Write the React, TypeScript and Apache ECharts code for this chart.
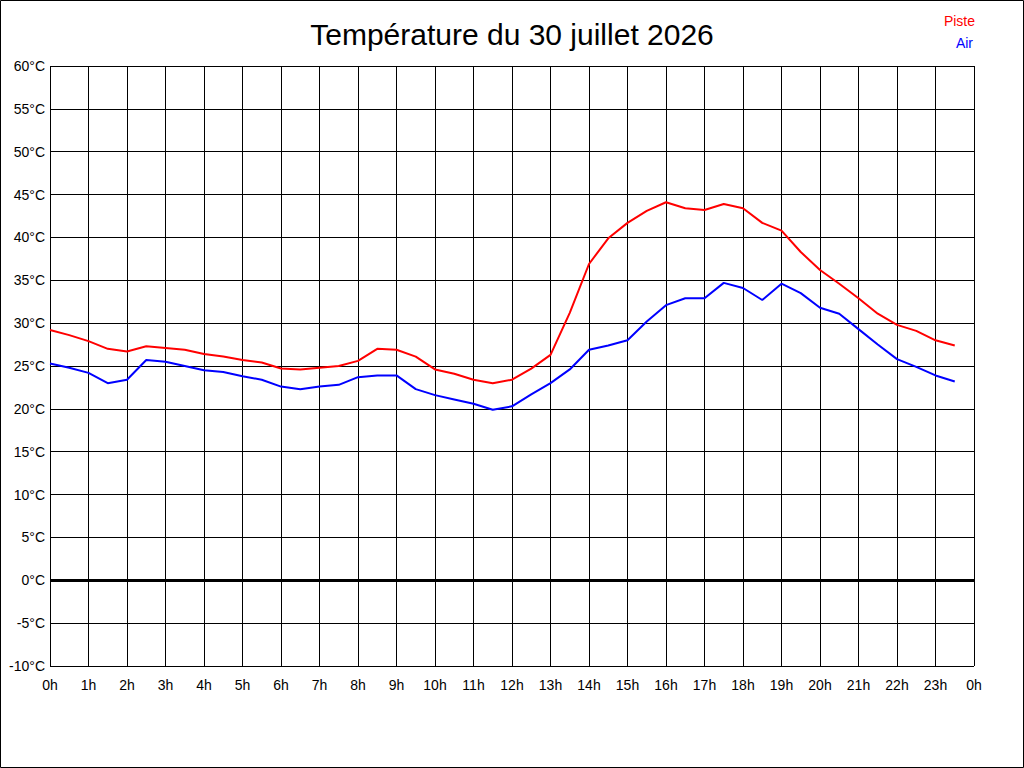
import React, { useEffect, useRef } from 'react'
import * as echarts from 'echarts'

// relevés toutes les 30 minutes, de 0h à 23h30
const piste = [
  29.2, 28.6, 27.9, 27.0, 26.7, 27.3, 27.1, 26.9, 26.4, 26.1, 25.7, 25.4,
  24.7, 24.6, 24.8, 25.0, 25.6, 27.0, 26.9, 26.1, 24.6, 24.1, 23.4, 23.0,
  23.4, 24.7, 26.3, 31.2, 36.9, 39.9, 41.7, 43.1, 44.1, 43.4, 43.2, 43.9,
  43.4, 41.7, 40.8, 38.3, 36.2, 34.6, 32.9, 31.1, 29.8, 29.1, 28.0, 27.4,
]
const air = [
  25.3, 24.8, 24.2, 23.0, 23.4, 25.7, 25.5, 25.0, 24.5, 24.3, 23.8, 23.4,
  22.6, 22.3, 22.6, 22.8, 23.7, 23.9, 23.9, 22.3, 21.6, 21.1, 20.6, 19.9,
  20.3, 21.7, 23.0, 24.6, 26.9, 27.4, 28.0, 30.2, 32.1, 32.9, 32.9, 34.7,
  34.1, 32.7, 34.6, 33.5, 31.8, 31.1, 29.3, 27.5, 25.8, 24.9, 23.9, 23.2,
]
const seriesNames = ['Piste', 'Air']
const seriesColors = ['#ff0000', '#0000ff']
const titleText = 'Température du 30 juillet 2026'

const font = '"Liberation Sans", Arial, sans-serif'

const App = () => {
  const chartRef = useRef<HTMLDivElement>(null)

  useEffect(() => {
    if (!chartRef.current) return
    const chart = echarts.init(chartRef.current, null, { renderer: 'svg' })
    const toPoints = (values: number[]) => values.map((v, i) => [i / 2, v])

    const option = {
      animation: false,
      backgroundColor: '#ffffff',
      textStyle: { fontFamily: font },
      title: {
        text: titleText,
        left: 'center',
        top: 14,
        textStyle: { fontFamily: font, fontSize: 30, fontWeight: 'normal', color: '#000' },
      },
      grid: { left: 50, top: 66, width: 924, height: 600 },
      xAxis: {
        type: 'value',
        min: 0,
        max: 24,
        interval: 1,
        axisLine: { show: false },
        axisTick: { show: false },
        axisLabel: {
          margin: 12,
          fontSize: 14,
          color: '#000',
          fontFamily: font,
          showMinLabel: true,
          showMaxLabel: true,
          formatter: (v: number) => `${v % 24}h`,
        },
        splitLine: { show: true, lineStyle: { color: '#000', width: 1 } },
      },
      yAxis: {
        type: 'value',
        min: -10,
        max: 60,
        interval: 5,
        axisLine: { show: false },
        axisTick: { show: false },
        axisLabel: {
          margin: 5,
          fontSize: 14,
          color: '#000',
          fontFamily: font,
          formatter: (v: number) => `${v}°C`,
        },
        splitLine: { show: true, lineStyle: { color: '#000', width: 1 } },
      },
      series: [
        {
          name: seriesNames[0],
          type: 'line',
          data: toPoints(piste),
          showSymbol: false,
          lineStyle: { color: seriesColors[0], width: 2 },
          markLine: {
            silent: true,
            symbol: 'none',
            label: { show: false },
            lineStyle: { color: '#000', width: 3, type: 'solid' },
            data: [{ yAxis: 0 }],
          },
        },
        {
          name: seriesNames[1],
          type: 'line',
          data: toPoints(air),
          showSymbol: false,
          lineStyle: { color: seriesColors[1], width: 2 },
        },
      ],
      graphic: [
        {
          type: 'rect',
          shape: { x: 0.5, y: 0.5, width: 1023, height: 767 },
          style: { fill: 'none', stroke: '#000', lineWidth: 1 },
          silent: true,
        },
        {
          type: 'text',
          x: 975,
          y: 21,
          style: {
            text: seriesNames[0],
            fill: seriesColors[0],
            font: `14px ${font}`,
            textAlign: 'right',
            textVerticalAlign: 'middle',
          },
        },
        {
          type: 'text',
          x: 973,
          y: 43,
          style: {
            text: seriesNames[1],
            fill: seriesColors[1],
            font: `14px ${font}`,
            textAlign: 'right',
            textVerticalAlign: 'middle',
          },
        },
      ],
    }

    chart.setOption(option)
    return () => {
      chart.dispose()
    }
  }, [])

  return (
    <div
      ref={chartRef}
      style={{ position: 'absolute', left: 0, top: 0, width: 1024, height: 768 }}
    />
  )
}

export default App
